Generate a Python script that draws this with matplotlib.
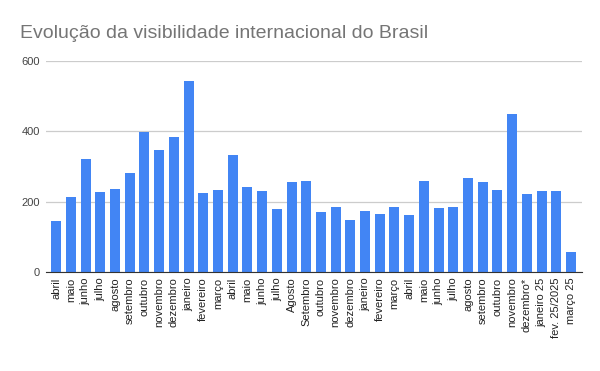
import matplotlib.pyplot as plt
import numpy as np

meses = ["abril", "maio", "junho", "julho", "agosto", "setembro", "outubro",
         "novembro", "dezembro", "janeiro", "fevereiro", "março", "abril",
         "maio", "junho", "julho", "Agosto", "Setembro", "outubro", "novembro",
         "dezembro", "janeiro", "fevereiro", "março", "abril", "maio", "junho",
         "julho", "agosto", "setembro", "outubro", "novembro", "dezembro*",
         "janeiro 25", "fev. 25/2025", "março 25"]
valores = [145, 213, 321, 227, 236, 281, 398, 347, 384, 543, 225, 233, 333,
           242, 230, 179, 256, 259, 171, 185, 148, 173, 165, 185, 162, 259,
           182, 185, 267, 256, 233, 449, 222, 230, 230, 57]

plt.rcParams['font.family'] = ['Liberation Sans', 'DejaVu Sans']

fig = plt.figure(figsize=(6, 3.71), dpi=100)
ax = fig.add_axes([0.077, 0.267, 0.893, 0.569])

x = np.arange(len(meses))
ax.bar(x, valores, width=0.68, color='#4285F4', zorder=3)

ax.set_ylim(0, 600)
ax.set_xlim(-0.68, len(meses) - 0.25)
ax.set_yticks([0, 200, 400, 600])
ax.set_xticks(x)
ax.set_xticklabels(meses, rotation=90, fontsize=8, color='#222222')
ax.tick_params(axis='x', length=0, pad=4)
ax.tick_params(axis='y', length=0, labelsize=8, labelcolor='#444444', pad=4.5)

ax.grid(axis='y', color='#cccccc', linewidth=0.9, zorder=0)
for s in ['top', 'right', 'left']:
    ax.spines[s].set_visible(False)
ax.spines['bottom'].set_color('#333333')
ax.spines['bottom'].set_zorder(4)

fig.text(0.034, 0.898, "Evolução da visibilidade internacional do Brasil",
         fontsize=14, color='#757575')

fig.savefig('out.png', dpi=100)
